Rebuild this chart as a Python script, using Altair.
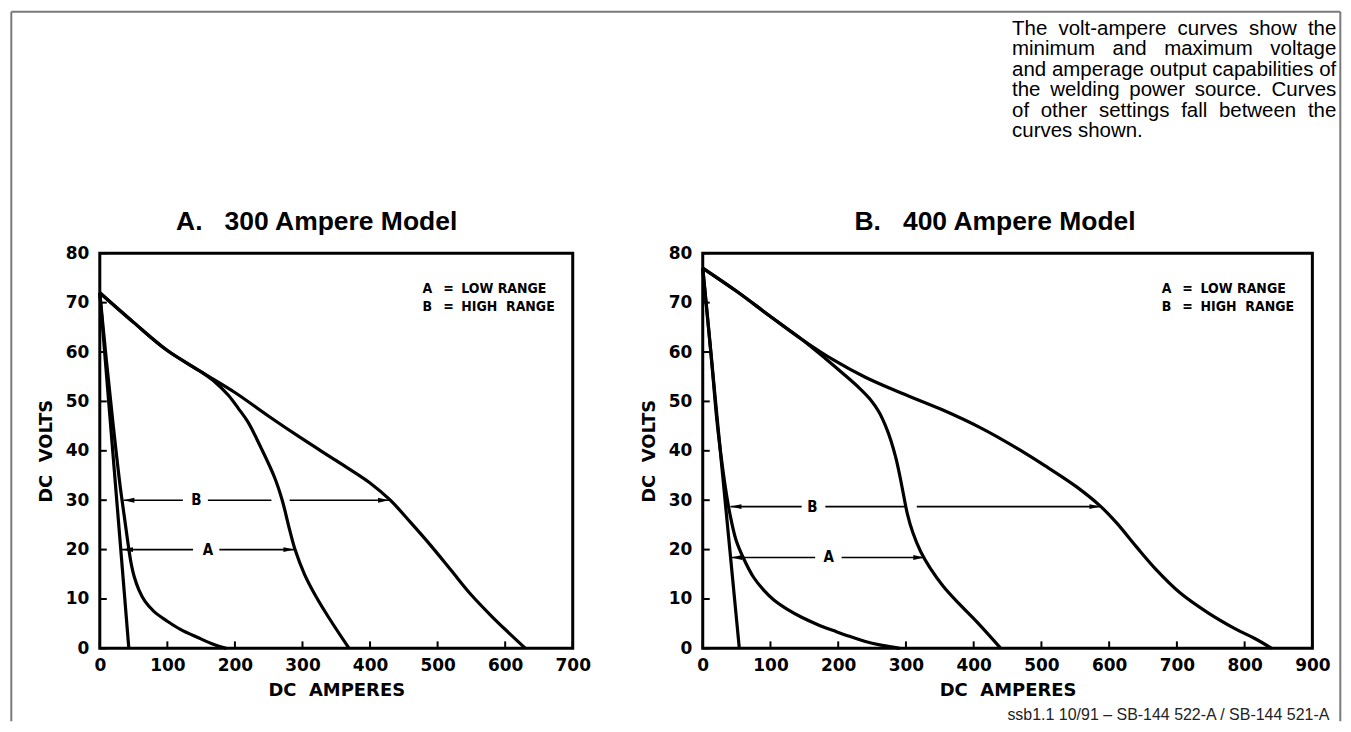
import altair as alt
import pandas as pd

# ---------------- data ----------------
YTICKS = [0, 10, 20, 30, 40, 50, 60, 70, 80]
L_XTICKS = [0, 100, 200, 300, 400, 500, 600, 700]
R_XTICKS = [0, 100, 200, 300, 400, 500, 600, 700, 800, 900]

# 300 Ampere model
L_AMIN_AMPS = [0, 43]
L_AMIN_VOLTS = [72, 0]
L_BMIN_AMPS = [0, 10, 20, 30, 37, 42, 46, 51, 58, 67, 80, 100, 120, 145, 165, 187]
L_BMIN_VOLTS = [72, 58, 45, 33, 26, 21, 17.5, 14.5, 11.8, 9.5, 7.5, 5.5, 3.8, 2.2, 1.0, 0]
L_AMAX_AMPS = [0, 50, 100, 150, 170, 190, 205, 219, 239, 259, 270, 281, 289, 303, 320, 340, 369]
L_AMAX_VOLTS = [72, 66, 60.3, 56, 54, 51.3, 48.6, 45.9, 40.5, 34.5, 30, 24, 20, 15, 10.5, 6, 0]
L_BMAX_AMPS = [0, 50, 100, 150, 200, 250, 300, 350, 400, 430, 460, 490, 520, 550, 580, 605, 630]
L_BMAX_VOLTS = [72, 66, 60.3, 56, 51.8, 47, 42.4, 38, 33.5, 30, 25.5, 20.8, 15.8, 10.8, 6.5, 3.2, 0]

L_ARROW_NAMES = ["B", "A"]
L_ARROW_VOLTS = [30, 20]
L_ARROW_FROM = [35, 33]
L_ARROW_TO = [428, 288]
L_ARROW_LABEL_AT = [143, 160]
L_SEG_NAMES = ["B", "B", "B", "A", "A"]
L_SEG_START = [35, 160, 281, 33, 177]
L_SEG_END = [123, 254, 428, 138, 288]

# 400 Ampere model
R_AMIN_AMPS = [0, 54]
R_AMIN_VOLTS = [77, 0]
R_BMIN_AMPS = [0, 12, 21, 27, 33, 40, 49, 60, 75, 90, 105, 125, 146, 170, 193, 215, 240, 265, 291]
R_BMIN_VOLTS = [77, 60, 46, 39, 33, 27.3, 22, 18.3, 14.4, 11.8, 9.8, 7.9, 6.3, 4.8, 3.6, 2.5, 1.4, 0.6, 0]
R_AMAX_AMPS = [0, 50, 99, 146, 181, 210, 232, 248, 260, 270, 278, 285, 291, 296, 302, 310, 322, 336, 355, 378, 405, 440]
R_AMAX_VOLTS = [77, 72.3, 67.3, 62.6, 58.7, 55.3, 52.6, 50.3, 47.9, 45, 42, 38.6, 34.9, 31.4, 27.3, 23.5, 19.5, 16.2, 12.6, 9.1, 5.3, 0]
R_BMAX_AMPS = [0, 50, 99, 146, 193, 240, 293, 352, 411, 458, 505, 552, 587, 611, 640, 669, 705, 746, 787, 815, 840]
R_BMAX_VOLTS = [77, 72.3, 67.3, 62.6, 58.4, 54.9, 51.7, 48.4, 44.6, 41, 37, 32.7, 28.8, 25.4, 20.6, 16, 11.2, 7.2, 3.9, 2, 0]

R_ARROW_NAMES = ["B", "A"]
R_ARROW_VOLTS = [28.7, 18.4]
R_ARROW_FROM = [41, 42]
R_ARROW_TO = [587, 327]
R_ARROW_LABEL_AT = [162, 186]
R_SEG_NAMES = ["B", "B", "B", "A", "A"]
R_SEG_START = [41, 181, 316, 42, 205]
R_SEG_END = [146, 299, 587, 166, 327]

LEGEND_KEYS = ["A", "B"]
LEGEND_TEXT = ["LOW RANGE", "HIGH\u00a0\u00a0RANGE"]

TITLE_L = "A.\u00a0\u00a0\u00a0300 Ampere Model"
TITLE_R = "B.\u00a0\u00a0\u00a0400 Ampere Model"
NOTE_LINES = [
    "The volt-ampere curves show the",
    "minimum and maximum voltage",
    "and amperage output capabilities of",
    "the welding power source. Curves",
    "of other settings fall between the",
    "curves shown.",
]
FOOTER = "ssb1.1 10/91 \u2013 SB-144 522-A / SB-144 521-A"

# ---------------- helpers ----------------
H = 396
LABEL_FONT = "DejaVu Sans"
SANS = "Liberation Sans, Arial, sans-serif"
NARROW = "Liberation Sans Narrow, DejaVu Sans Condensed, Liberation Sans, sans-serif"
LEFT_HEAD = "M 0 0 L 2 -0.45 L 2 0.45 Z"
RIGHT_HEAD = "M 0 0 L -2 -0.45 L -2 0.45 Z"

# Arial / Liberation Sans advance widths (1/1000 em) for justified note text
_W = {" ": 278, "a": 556, "b": 556, "c": 500, "d": 556, "e": 556, "f": 278, "g": 556,
      "h": 556, "i": 222, "j": 222, "k": 500, "l": 222, "m": 833, "n": 556, "o": 556,
      "p": 556, "q": 556, "r": 333, "s": 500, "t": 278, "u": 556, "v": 500, "w": 722,
      "x": 500, "y": 500, "z": 500, "T": 611, "C": 722, ".": 278, "-": 333}


def text_width(s, size):
    return sum(_W.get(ch, 556) for ch in s) * size / 1000.0


def curves_df(series):
    rows = []
    for name, (xs, ys) in series.items():
        for i, (x, y) in enumerate(zip(xs, ys)):
            rows.append({"curve": name, "i": i, "amps": x, "volts": y})
    return pd.DataFrame(rows)


def panel(series, names, avolts, afrom, ato, alabel, snames, sstart, send,
          xmax, xticks, width, title, title_amps, leg_x, extra=None):
    xs = alt.Scale(domain=[0, xmax], nice=False, zero=True)
    ys = alt.Scale(domain=[0, 80], nice=False, zero=True)
    xax = alt.Axis(values=xticks, title="DC\u00a0\u00a0AMPERES", format="d",
                   labelFont=LABEL_FONT, labelFontWeight="bold", labelFontSize=17,
                   labelColor="black", labelPadding=9, labelFlush=False, labelOverlap=False,
                   ticks=False, tickSize=0, domain=False, grid=False,
                   titleFont=LABEL_FONT, titleFontWeight="bold", titleFontSize=18,
                   titleColor="black", titlePadding=8)
    yax = alt.Axis(values=YTICKS, title="DC\u00a0\u00a0VOLTS", format="d",
                   labelFont=LABEL_FONT, labelFontWeight="bold", labelFontSize=17,
                   labelColor="black", labelPadding=11, labelOverlap=False,
                   ticks=False, tickSize=0, domain=False, grid=False,
                   titleFont=LABEL_FONT, titleFontWeight="bold", titleFontSize=18,
                   titleColor="black", titlePadding=10)

    def X(f):
        return alt.X(f, type="quantitative", scale=xs, axis=xax)

    def Y(f):
        return alt.Y(f, type="quantitative", scale=ys, axis=yax)

    def XD(v):
        return alt.XDatum(v, type="quantitative", scale=xs, axis=xax)

    def YD(v):
        return alt.YDatum(v, type="quantitative", scale=ys, axis=yax)

    lines = alt.Chart(curves_df(series)).mark_line(
        color="black", strokeWidth=3.2, interpolate="catmull-rom", strokeJoin="round"
    ).encode(x=X("amps"), y=Y("volts"), detail="curve:N", order="i:Q")

    xt = alt.Chart(pd.DataFrame({"amps": xticks})).mark_rule(
        color="black", strokeWidth=2).encode(x=X("amps"), y=alt.value(H), y2=alt.value(H - 7))
    yt = alt.Chart(pd.DataFrame({"volts": YTICKS})).mark_rule(
        color="black", strokeWidth=2).encode(y=Y("volts"), x=alt.value(0), x2=alt.value(7))

    seg_df = pd.DataFrame({"name": snames, "start": sstart, "end": send})
    seg_df["volts"] = seg_df["name"].map(dict(zip(names, avolts)))
    segs = alt.Chart(seg_df).mark_rule(color="black", strokeWidth=1.6).encode(
        x=X("start"), x2="end:Q", y=Y("volts"))

    arr_df = pd.DataFrame({"name": names, "volts": avolts, "from": afrom,
                           "to": ato, "lab": alabel})
    lh = alt.Chart(arr_df).mark_point(shape=LEFT_HEAD, filled=True, size=120,
                                      color="black", opacity=1, strokeWidth=0).encode(
        x=X("from"), y=Y("volts"))
    rh = alt.Chart(arr_df).mark_point(shape=RIGHT_HEAD, filled=True, size=120,
                                      color="black", opacity=1, strokeWidth=0).encode(
        x=X("to"), y=Y("volts"))
    labs = alt.Chart(arr_df).mark_text(font=NARROW, fontWeight="bold", fontSize=15,
                                       color="black", baseline="middle").encode(
        x=X("lab"), y=Y("volts"), text="name:N")

    layers = [lines, xt, yt, segs, lh, rh, labs]

    # legend text (inside plot, top right)
    for k, (key, txt) in enumerate(zip(LEGEND_KEYS, LEGEND_TEXT)):
        yv = 72.8 - 3.6 * k
        base = alt.Chart(pd.DataFrame({"k": [k]}))
        layers.append(base.mark_text(font=NARROW, fontWeight="bold", fontSize=14,
                                     color="black", align="left", baseline="middle").encode(
            x=XD(leg_x[0]), y=YD(yv), text=alt.value(key)))
        layers.append(base.mark_text(font=NARROW, fontWeight="bold", fontSize=14,
                                     color="black", align="center", baseline="middle").encode(
            x=XD(leg_x[1]), y=YD(yv), text=alt.value("=")))
        layers.append(base.mark_text(font=NARROW, fontWeight="bold", fontSize=14,
                                     color="black", align="left", baseline="middle").encode(
            x=XD(leg_x[2]), y=YD(yv), text=alt.value(txt)))

    # panel title
    layers.append(alt.Chart(pd.DataFrame({"k": [0]})).mark_text(
        font=SANS, fontWeight="bold", fontSize=26.5,
        color="black", align="center", baseline="middle").encode(
        x=XD(title_amps), y=YD(86.3), text=alt.value(title)))

    if extra:
        layers.extend(extra)
    return alt.layer(*layers).properties(width=width, height=H)


one = pd.DataFrame({"k": [0]})
FRAME = "#7a7a7a"
frame = [
    alt.Chart(one).mark_rule(color=FRAME, strokeWidth=2).encode(
        x=alt.value(-88.7), y=alt.value(-242), y2=alt.value(469)),
    alt.Chart(one).mark_rule(color=FRAME, strokeWidth=2).encode(
        x=alt.value(-88.7), x2=alt.value(1243.3), y=alt.value(-242)),
    alt.Chart(one).mark_rule(color=FRAME, strokeWidth=2).encode(
        x=alt.value(1243.3), y=alt.value(-242), y2=alt.value(469)),
]

# justified note block (top right), placed relative to the right panel's plot origin
NOTE_SIZE = 20.5
NOTE_LEFT = 310
NOTE_WIDTH = 325
NOTE_BASE = -219
NOTE_LEADING = 20.5
note = []
for li, line in enumerate(NOTE_LINES):
    words = line.split(" ")
    widths = [text_width(w, NOTE_SIZE) for w in words]
    if li < len(NOTE_LINES) - 1 and len(words) > 1:
        gap = (NOTE_WIDTH - sum(widths)) / (len(words) - 1)
    else:
        gap = text_width(" ", NOTE_SIZE)
    xpos = NOTE_LEFT
    for w, wd in zip(words, widths):
        note.append(alt.Chart(one).mark_text(font=SANS, fontSize=NOTE_SIZE, color="black",
                                             align="left", baseline="alphabetic").encode(
            x=alt.value(round(xpos, 2)), y=alt.value(NOTE_BASE + li * NOTE_LEADING),
            text=alt.value(w)))
        xpos += wd + gap

note.append(alt.Chart(one).mark_text(font=SANS, fontSize=16, color="#222222",
                                     align="right", baseline="alphabetic").encode(
    x=alt.value(628), y=alt.value(468), text=alt.value(FOOTER)))

left = panel(
    {"A min": (L_AMIN_AMPS, L_AMIN_VOLTS), "B min": (L_BMIN_AMPS, L_BMIN_VOLTS),
     "A max": (L_AMAX_AMPS, L_AMAX_VOLTS), "B max": (L_BMAX_AMPS, L_BMAX_VOLTS)},
    L_ARROW_NAMES, L_ARROW_VOLTS, L_ARROW_FROM, L_ARROW_TO, L_ARROW_LABEL_AT,
    L_SEG_NAMES, L_SEG_START, L_SEG_END,
    700, L_XTICKS, 474, TITLE_L, 321, (477.5, 516, 535), extra=frame)

right = panel(
    {"A min": (R_AMIN_AMPS, R_AMIN_VOLTS), "B min": (R_BMIN_AMPS, R_BMIN_VOLTS),
     "A max": (R_AMAX_AMPS, R_AMAX_VOLTS), "B max": (R_BMAX_AMPS, R_BMAX_VOLTS)},
    R_ARROW_NAMES, R_ARROW_VOLTS, R_ARROW_FROM, R_ARROW_TO, R_ARROW_LABEL_AT,
    R_SEG_NAMES, R_SEG_START, R_SEG_END,
    900, R_XTICKS, 611, TITLE_R, 431.5, (677.5, 715.8, 735), extra=note)

chart = alt.hconcat(left, right, spacing=130.3, bounds="flush").properties(
    padding=0, background="white"
).configure_view(stroke="black", strokeWidth=3)

chart.save("out.html", embed_options={"renderer": "svg", "actions": False})
